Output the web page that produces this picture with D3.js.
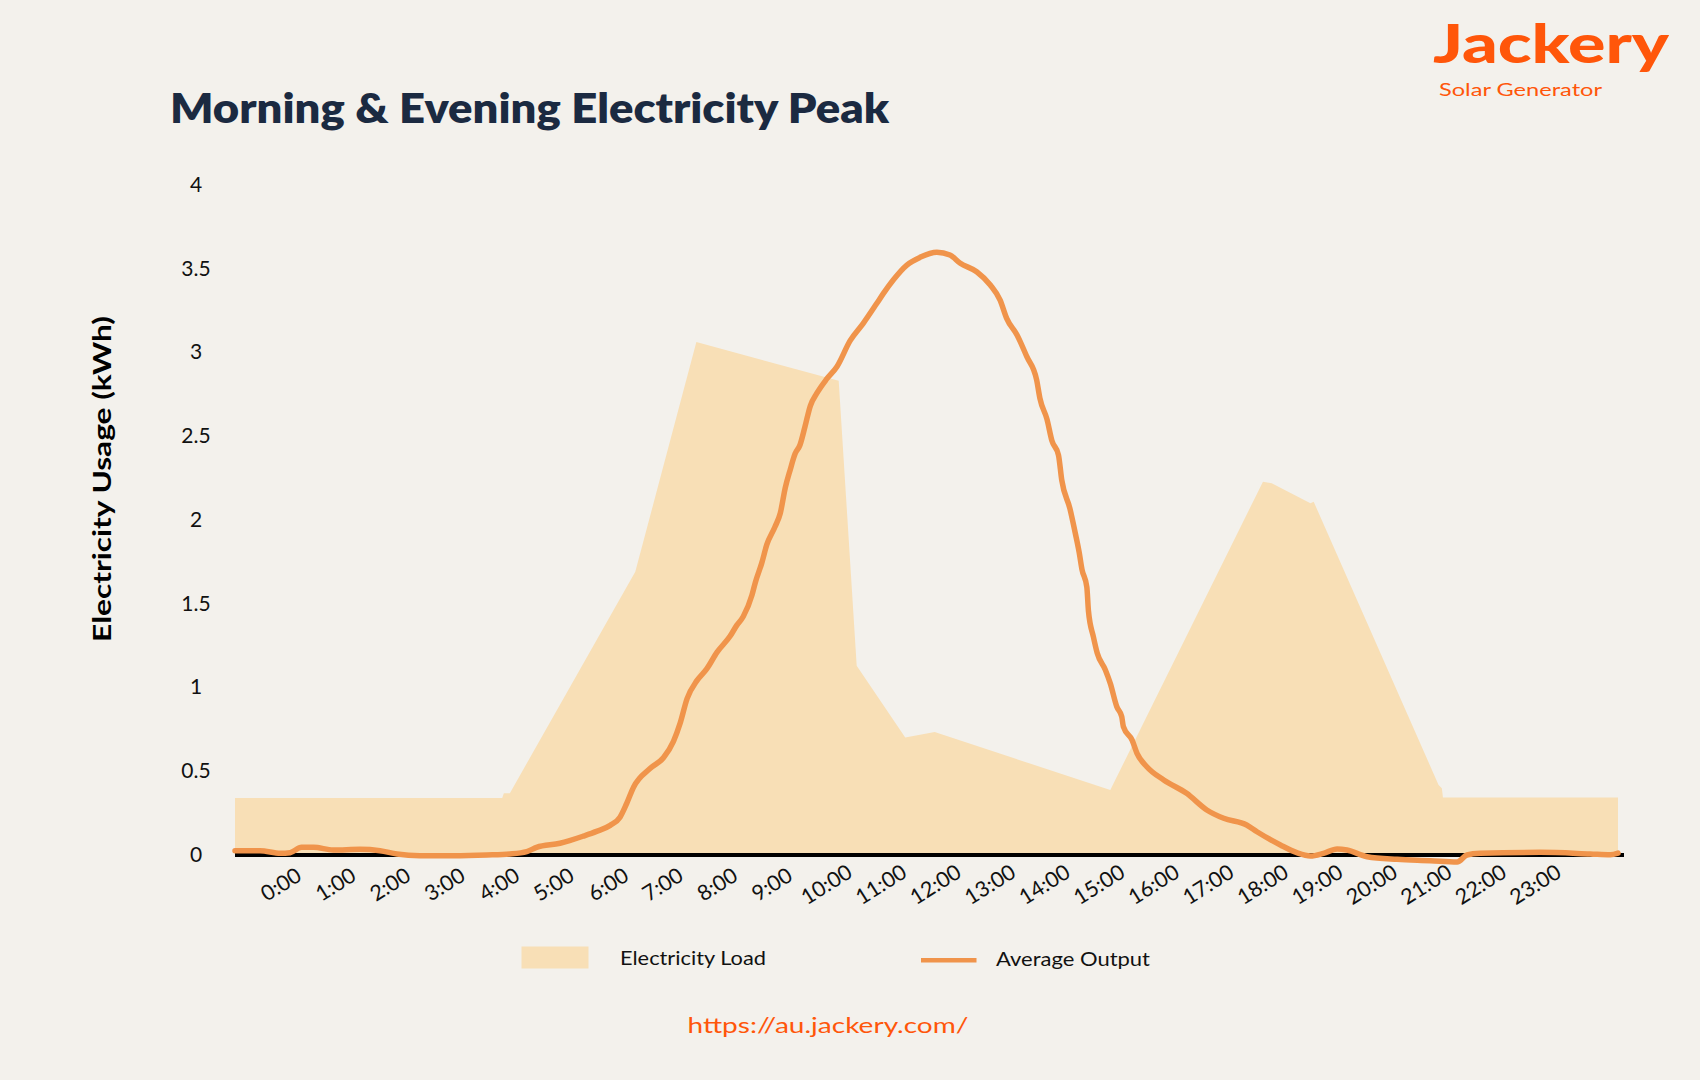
<!DOCTYPE html>
<html>
<head>
<meta charset="utf-8">
<script src="https://cdn.jsdelivr.net/npm/d3@7"></script>
<style>
  html, body { margin: 0; padding: 0; background: #F3F1EC; }
  svg { display: block; }
  text { font-family: Lato, "Open Sans", sans-serif; }
</style>
</head>
<body>
<svg id="chart" width="1700" height="1080"></svg>
<script>
// ---------- data ----------
const tickHours = [0,1,2,3,4,5,6,7,8,9,10,11,12,13,14,15,16,17,18,19,20,21,22,23];
const tickLabels = ["0:00","1:00","2:00","3:00","4:00","5:00","6:00","7:00","8:00","9:00","10:00","11:00",
                    "12:00","13:00","14:00","15:00","16:00","17:00","18:00","19:00","20:00","21:00","22:00","23:00"];
const yTicks = [0, 0.5, 1, 1.5, 2, 2.5, 3, 3.5, 4];

// Electricity Load (hour, kWh)
const loadHours  = [-0.83, 4.07, 4.10, 4.21, 6.51, 7.63, 10.24, 10.57, 11.46, 12.00, 15.22, 18.02, 18.18, 18.89, 18.95, 21.24, 21.30, 21.32, 24.53];
const loadValues = [0.335, 0.335, 0.363, 0.363, 1.685, 3.056, 2.826, 1.124, 0.696, 0.728, 0.382, 2.223, 2.213, 2.094, 2.103, 0.412, 0.392, 0.337, 0.337];

// Average Output (hour, kWh)
const outputHours = [-0.83,-0.37,0.00,0.18,0.39,0.61,0.97,1.46,1.83,2.14,2.56,3.17,3.79,4.21,4.52,4.70,5.13,5.56,5.80,6.05,
  6.23,6.35,6.48,6.78,7.03,7.21,7.33,7.46,7.64,7.82,8.01,8.25,8.37,8.49,8.65,8.71,8.83,8.92,9.07,9.17,
  9.26,9.35,9.44,9.53,9.62,9.72,9.84,10.02,10.21,10.45,10.69,10.94,11.06,11.24,11.49,11.73,12.04,12.28,12.47,12.77,
  13.02,13.20,13.32,13.51,13.69,13.87,13.93,14.06,14.15,14.27,14.33,14.48,14.58,14.65,14.70,14.79,14.82,14.91,14.98,15.13,
  15.22,15.34,15.43,15.46,15.62,15.71,15.89,16.20,16.62,16.99,17.30,17.72,17.91,18.34,18.64,18.89,19.13,19.38,19.56,19.93,
  20.48,21.09,21.58,21.76,22.00,23.10,24.02,24.39,24.53];
const outputValues = [0.02,0.02,0.004,0.008,0.04,0.04,0.024,0.028,0.02,0.0,-0.01,-0.01,-0.006,0.0,0.014,0.04,0.064,0.107,0.135,0.171,
  0.22,0.30,0.40,0.51,0.576,0.672,0.778,0.928,1.035,1.105,1.205,1.301,1.365,1.418,1.546,1.62,1.738,1.845,1.952,2.036,
  2.186,2.293,2.389,2.442,2.549,2.676,2.751,2.836,2.911,3.065,3.168,3.288,3.347,3.427,3.516,3.562,3.593,3.576,3.527,3.476,
  3.397,3.307,3.198,3.099,2.969,2.830,2.72,2.595,2.467,2.382,2.233,2.062,1.913,1.80,1.70,1.593,1.45,1.297,1.20,1.099,
  1.019,0.879,0.82,0.76,0.68,0.601,0.521,0.442,0.362,0.263,0.213,0.173,0.133,0.054,0.008,-0.012,0.004,0.03,0.024,-0.016,
  -0.032,-0.04,-0.048,-0.006,0.004,0.01,0.0,-0.005,0.005];

const seriesNames = ["Electricity Load", "Average Output"];

// ---------- styles ----------
const BG = "#F3F1EC", LOAD = "#F8DFB6", LINE = "#F0944B", BRAND = "#FF560A", TITLE = "#1B2A41";

const svg = d3.select("#chart");
svg.append("rect").attr("width", 1700).attr("height", 1080).attr("fill", BG);

const x = d3.scaleLinear().domain([-0.83, 24.53]).range([235, 1618]);
const y = d3.scaleLinear().domain([0, 4]).range([854, 184]);

// load area
const loadData = loadHours.map((h, i) => ({h, v: loadValues[i]}));
svg.append("path")
  .datum(loadData)
  .attr("fill", LOAD)
  .attr("d", d3.area().x(d => x(d.h)).y0(y(0)).y1(d => y(d.v)));

// x axis
const xAxis = d3.axisBottom(x).tickValues(tickHours).tickSize(0)
  .tickFormat((d, i) => tickLabels[i]);
const gx = svg.append("g").attr("transform", "translate(0,855)").call(xAxis);
gx.select(".domain").remove();
gx.selectAll(".tick text")
  .attr("y", 0).attr("dy", null)
  .attr("dominant-baseline", "central")
  .attr("text-anchor", "middle")
  .attr("transform", "translate(0,29) rotate(-32)")
  .attr("font-size", 21.5)
  .attr("font-family", "Lato, sans-serif")
  .attr("fill", "#111");
svg.append("line")
  .attr("x1", x.range()[0]).attr("x2", x.range()[1] + 6)
  .attr("y1", 855).attr("y2", 855)
  .attr("stroke", "#000").attr("stroke-width", 4);

// y axis labels
const yAxis = d3.axisLeft(y).tickValues(yTicks).tickSize(0).tickPadding(0).tickFormat(d3.format("~g"));
const gy = svg.append("g").attr("transform", "translate(196,0)").call(yAxis);
gy.select(".domain").remove();
gy.selectAll(".tick text")
  .attr("x", 0).attr("dy", "0.35em")
  .attr("text-anchor", "middle")
  .attr("font-size", 21)
  .attr("font-family", "Lato, sans-serif")
  .attr("fill", "#111");

// output line
const outData = outputHours.map((h, i) => ({h, v: outputValues[i]}));
svg.append("path")
  .datum(outData)
  .attr("fill", "none")
  .attr("stroke", LINE)
  .attr("stroke-width", 5.5)
  .attr("stroke-linejoin", "round")
  .attr("stroke-linecap", "round")
  .attr("d", d3.line().x(d => x(d.h)).y(d => y(d.v)).curve(d3.curveMonotoneX));

// title
svg.append("text")
  .attr("x", 170).attr("y", 123)
  .attr("font-size", 42).attr("font-weight", 800)
  .attr("fill", TITLE)
  .attr("textLength", 719).attr("lengthAdjust", "spacingAndGlyphs")
  .text("Morning & Evening Electricity Peak");

// y axis title
svg.append("text")
  .attr("transform", "translate(111,479) rotate(-90)")
  .attr("text-anchor", "middle")
  .attr("font-size", 24).attr("font-weight", 700)
  .attr("fill", "#000")
  .attr("textLength", 326).attr("lengthAdjust", "spacingAndGlyphs")
  .text("Electricity Usage (kWh)");

// logo
svg.append("text")
  .attr("x", 1433).attr("y", 63)
  .attr("font-size", 54).attr("font-weight", 900)
  .attr("fill", BRAND)
  .attr("textLength", 236).attr("lengthAdjust", "spacingAndGlyphs")
  .text("Jackery");
svg.append("text")
  .attr("x", 1439).attr("y", 96)
  .attr("font-size", 18)
  .attr("fill", BRAND)
  .attr("textLength", 163).attr("lengthAdjust", "spacingAndGlyphs")
  .text("Solar Generator");

// legend
const leg = svg.append("g");
leg.append("rect").attr("x", 521.5).attr("y", 946.5).attr("width", 67).attr("height", 22).attr("fill", LOAD);
leg.append("text").attr("x", 620).attr("y", 965).attr("font-size", 20).attr("fill", "#111")
  .attr("textLength", 146).attr("lengthAdjust", "spacingAndGlyphs").text(seriesNames[0]);
leg.append("line").attr("x1", 921).attr("x2", 976.5).attr("y1", 960.3).attr("y2", 960.3)
  .attr("stroke", LINE).attr("stroke-width", 4.5);
leg.append("text").attr("x", 996).attr("y", 966).attr("font-size", 20).attr("fill", "#111")
  .attr("textLength", 154).attr("lengthAdjust", "spacingAndGlyphs").text(seriesNames[1]);

// url
svg.append("text")
  .attr("x", 828).attr("y", 1033)
  .attr("text-anchor", "middle")
  .attr("font-size", 22)
  .attr("fill", BRAND)
  .attr("textLength", 281).attr("lengthAdjust", "spacingAndGlyphs")
  .text("https://au.jackery.com/");
</script>
</body>
</html>
